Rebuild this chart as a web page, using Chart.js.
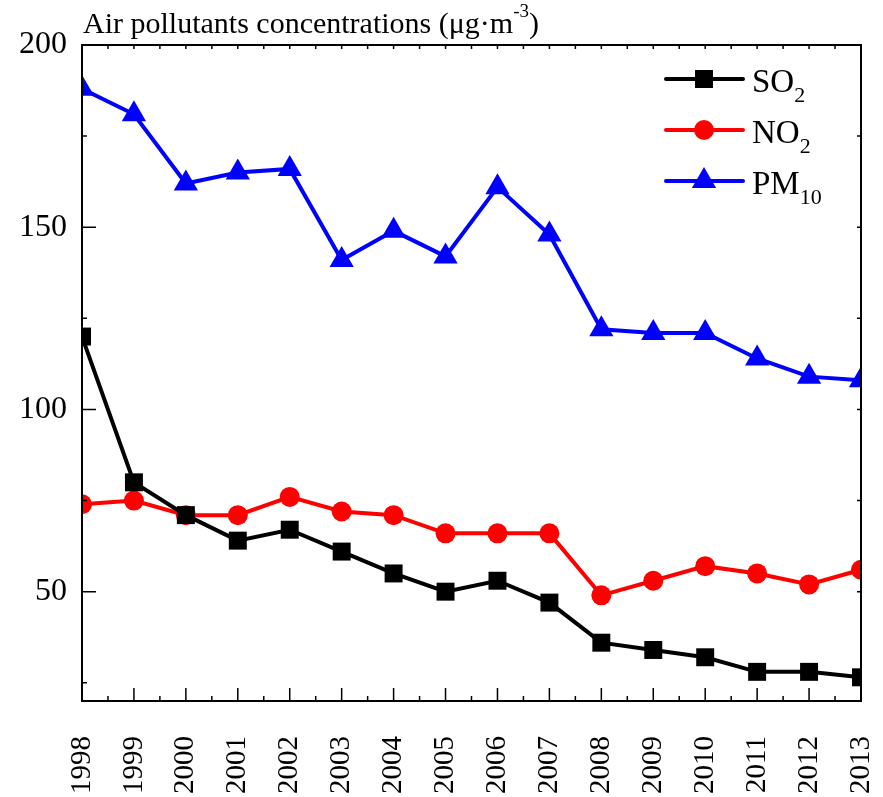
<!DOCTYPE html>
<html>
<head>
<meta charset="utf-8">
<script src="https://cdn.jsdelivr.net/npm/chart.js@4.4.1/dist/chart.umd.min.js"></script>
<style>
  html, body { margin: 0; padding: 0; background: #fff; }
  #wrap { width: 883px; height: 797px; position: relative; }
</style>
</head>
<body>
<div id="wrap"><canvas id="airChart"></canvas></div>
<script>
// data
const years = ['1998', '1999', '2000', '2001', '2002', '2003', '2004', '2005',
               '2006', '2007', '2008', '2009', '2010', '2011', '2012', '2013'];
const so2  = [120, 80, 71, 64, 67, 61, 55, 50, 53, 47, 36, 34, 32, 28, 28, 26.5];
const no2  = [74, 75, 71, 71, 76, 72, 71, 66, 66, 66, 49, 53, 57, 55, 52, 56];
const pm10 = [188, 181, 162, 165, 166, 141, 149, 142, 161, 148, 122, 121, 121, 114, 109, 108];
const yTicks = [50, 100, 150, 200];
const yMinor = [25, 75, 125, 175];
const legendParts = [['SO', '2'], ['NO', '2'], ['PM', '10']];
const titleText = 'Air pollutants concentrations (\u03BCg\u00B7m';

const SERIF = '"Liberation Serif", "Times New Roman", serif';

const framePlugin = {
  id: 'frame',
  afterDatasetsDraw(chart) {
    const { ctx, chartArea: a, scales: { x, y } } = chart;
    ctx.save();
    ctx.strokeStyle = '#000';
    ctx.lineWidth = 2;
    ctx.strokeRect(a.left, a.top, a.right - a.left, a.bottom - a.top);

    ctx.lineWidth = 1.5;
    ctx.beginPath();
    years.forEach((yr, i) => {
      const px = x.getPixelForValue(i);
      ctx.moveTo(px, a.bottom); ctx.lineTo(px, a.bottom - 13);
      ctx.moveTo(px, a.top); ctx.lineTo(px, a.top + 4);
      if (i < years.length - 1) {
        const mx = (px + x.getPixelForValue(i + 1)) / 2;
        ctx.moveTo(mx, a.bottom); ctx.lineTo(mx, a.bottom - 5);
        ctx.moveTo(mx, a.top); ctx.lineTo(mx, a.top + 4);
      }
    });
    yTicks.forEach(v => {
      const py = y.getPixelForValue(v);
      ctx.moveTo(a.left, py); ctx.lineTo(a.left + 14, py);
      ctx.moveTo(a.right, py); ctx.lineTo(a.right - 4, py);
    });
    yMinor.forEach(v => {
      const py = y.getPixelForValue(v);
      ctx.moveTo(a.left, py); ctx.lineTo(a.left + 5, py);
      ctx.moveTo(a.right, py); ctx.lineTo(a.right - 4, py);
    });
    ctx.stroke();

    // title with superscript
    ctx.fillStyle = '#000';
    ctx.textBaseline = 'alphabetic';
    ctx.textAlign = 'left';
    ctx.font = '30px ' + SERIF;
    let tx = 83;
    ctx.fillText(titleText, tx, 33);
    tx += ctx.measureText(titleText).width;
    ctx.font = '19px ' + SERIF;
    ctx.fillText('-3', tx, 17);
    tx += ctx.measureText('-3').width;
    ctx.font = '30px ' + SERIF;
    ctx.fillText(')', tx, 33);

    // legend
    chart.data.datasets.forEach((ds, i) => {
      const cy = 79 + i * 51;
      ctx.strokeStyle = ds.borderColor;
      ctx.fillStyle = ds.backgroundColor;
      ctx.lineWidth = 4;
      ctx.lineCap = 'round';
      ctx.beginPath();
      ctx.moveTo(666, cy); ctx.lineTo(743, cy);
      ctx.stroke();
      Chart.helpers.drawPoint(ctx, { pointStyle: ds.pointStyle, radius: ds.pointRadius, rotation: 0, borderWidth: 0 }, 704, cy);
      ctx.fillStyle = '#000';
      ctx.font = '33px ' + SERIF;
      ctx.fillText(legendParts[i][0], 752, cy + 13);
      const w = ctx.measureText(legendParts[i][0]).width;
      ctx.font = '22px ' + SERIF;
      ctx.fillText(legendParts[i][1], 752 + w, cy + 23);
    });
    ctx.restore();
  }
};

new Chart(document.getElementById('airChart'), {
  type: 'line',
  data: {
    labels: years,
    datasets: [
      { label: 'SO2', data: so2, borderColor: '#000000', backgroundColor: '#000000',
        pointStyle: 'rect', pointRadius: 12.7 },
      { label: 'NO2', data: no2, borderColor: '#ff0000', backgroundColor: '#ff0000',
        pointStyle: 'circle', pointRadius: 10 },
      { label: 'PM10', data: pm10, borderColor: '#0000ff', backgroundColor: '#0000ff',
        pointStyle: 'triangle', pointRadius: 14 }
    ].map(d => Object.assign(d, { borderWidth: 4, pointBorderWidth: 0, tension: 0, clip: 0,
                                  pointHoverRadius: d.pointRadius }))
  },
  options: {
    responsive: true,
    maintainAspectRatio: false,
    animation: false,
    layout: { padding: { top: 45, right: 22, left: 0, bottom: 0 } },
    plugins: { legend: { display: false }, tooltip: { enabled: false } },
    scales: {
      x: {
        type: 'category',
        offset: false,
        grid: { display: false, drawTicks: false },
        border: { display: false },
        ticks: { color: '#000', font: { family: SERIF, size: 29 }, minRotation: 90, maxRotation: 90,
                 autoSkip: false, padding: 35 },
        afterFit(s) { s.height = 96; s.paddingLeft = 0; s.paddingRight = 0; }
      },
      y: {
        min: 20, max: 200,
        grid: { display: false, drawTicks: false },
        border: { display: false },
        afterBuildTicks(s) { s.ticks = yTicks.map(v => ({ value: v })); },
        ticks: { color: '#000', font: { family: SERIF, size: 32 }, padding: 15 },
        afterFit(s) { s.width = 82; s.paddingTop = 0; s.paddingBottom = 0; }
      }
    }
  },
  plugins: [framePlugin]
});
</script>
</body>
</html>
